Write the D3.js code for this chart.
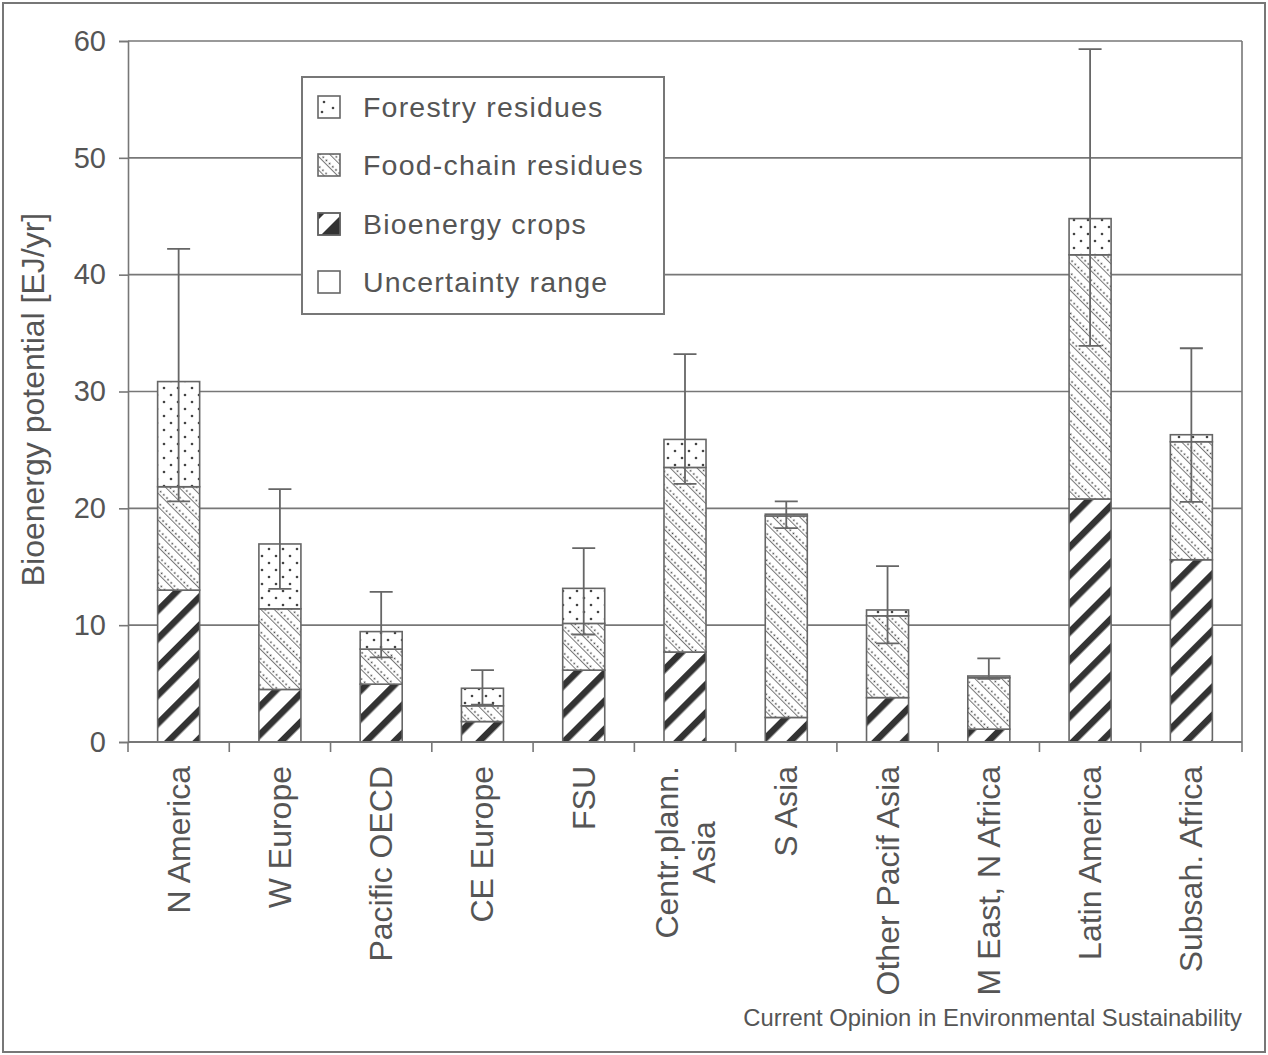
<!DOCTYPE html>
<html>
<head>
<meta charset="utf-8">
<script src="https://cdn.jsdelivr.net/npm/d3@7/dist/d3.min.js"></script>
<style>
  html, body { margin: 0; padding: 0; background: #fff; }
  svg { display: block; font-family: "Liberation Sans", Arial, Helvetica, sans-serif; }
</style>
</head>
<body>
<svg id="chart" width="1268" height="1055"></svg>
<script>
// ---- data (EJ/yr) ----
const categories = ["N America", "W Europe", "Pacific OECD", "CE Europe", "FSU", "Centr.plann.\nAsia",
  "S Asia", "Other Pacif Asia", "M East, N Africa", "Latin America", "Subsah. Africa"];
const bioenergyCrops = [13.0, 4.5, 4.95, 1.75, 6.15, 7.7, 2.1, 3.8, 1.1, 20.8, 15.6];
const foodChainResidues = [8.85, 6.9, 3.0, 1.35, 4.0, 15.8, 17.25, 7.0, 4.4, 20.9, 10.1];
const forestryResidues = [9.0, 5.55, 1.5, 1.5, 3.0, 2.4, 0.15, 0.5, 0.15, 3.1, 0.6];
const uncertaintyLow = [20.6, 13.1, 7.25, 3.2, 9.2, 22.1, 18.3, 8.45, 5.4, 33.9, 20.55];
const uncertaintyHigh = [42.2, 21.65, 12.85, 6.15, 16.6, 33.2, 20.6, 15.05, 7.15, 59.3, 33.7];
const yTicks = [0, 10, 20, 30, 40, 50, 60];
const legendLabels = ["Forestry residues", "Food-chain residues", "Bioenergy crops", "Uncertainty range"];
const yTitle = "Bioenergy potential [EJ/yr]";
const footer = "Current Opinion in Environmental Sustainability";

const rows = categories.map((c, i) => ({
  cat: c, crops: bioenergyCrops[i], food: foodChainResidues[i], forestry: forestryResidues[i],
  lo: uncertaintyLow[i], hi: uncertaintyHigh[i]
}));

const svg = d3.select("#chart");
const textColor = "#555";
const lineColor = "#777";

// ---- patterns ----
const defs = svg.append("defs");
const pCrops = defs.append("pattern").attr("id", "pCrops").attr("patternUnits", "userSpaceOnUse")
  .attr("width", 20).attr("height", 20).attr("patternTransform", "rotate(45)");
pCrops.append("rect").attr("width", 20).attr("height", 20).attr("fill", "#fff");
pCrops.append("rect").attr("x", 0).attr("y", 0).attr("width", 6.5).attr("height", 20).attr("fill", "#333");

const pFood = defs.append("pattern").attr("id", "pFood").attr("patternUnits", "userSpaceOnUse")
  .attr("width", 9.5).attr("height", 4.5).attr("patternTransform", "rotate(-45)");
pFood.append("rect").attr("width", 9.5).attr("height", 4.5).attr("fill", "#fff");
pFood.append("rect").attr("x", 0).attr("y", 0).attr("width", 1).attr("height", 4.5).attr("fill", "#777");
pFood.append("circle").attr("cx", 3.4).attr("cy", 2.2).attr("r", 0.9).attr("fill", "#444");

const pForest = defs.append("pattern").attr("id", "pForest").attr("patternUnits", "userSpaceOnUse")
  .attr("width", 14).attr("height", 14);
pForest.append("rect").attr("width", 14).attr("height", 14).attr("fill", "#fff");
pForest.append("circle").attr("cx", 3).attr("cy", 3).attr("r", 1.3).attr("fill", "#444");
pForest.append("circle").attr("cx", 10).attr("cy", 10).attr("r", 1.3).attr("fill", "#444");

// ---- outer frame ----
svg.append("rect").attr("x", 3).attr("y", 3).attr("width", 1262).attr("height", 1049)
  .attr("fill", "none").attr("stroke", "#777").attr("stroke-width", 2);

// ---- scales ----
const plotL = 128, plotR = 1242, plotT = 41, plotB = 742;
const x = d3.scaleBand().domain(categories).range([plotL, plotR]).paddingInner(0.585).paddingOuter(0.2925);
const xEdge = d3.scaleLinear().domain([0, categories.length]).range([plotL, plotR]);
const y = d3.scaleLinear().domain([0, 60]).range([plotB, plotT]);

// ---- grid ----
svg.append("g").selectAll("line").data(yTicks.filter(t => t > 0)).join("line")
  .attr("x1", plotL).attr("x2", plotR).attr("y1", d => y(d)).attr("y2", d => y(d))
  .attr("stroke", lineColor).attr("stroke-width", 1.6);
svg.append("line").attr("x1", plotR).attr("x2", plotR).attr("y1", plotT).attr("y2", plotB)
  .attr("stroke", lineColor).attr("stroke-width", 1.6);

// ---- y axis ----
const yAxis = svg.append("g").attr("transform", `translate(${plotL},0)`)
  .call(d3.axisLeft(y).tickValues(yTicks).tickSize(9).tickPadding(13));
yAxis.select(".domain").attr("stroke", lineColor).attr("stroke-width", 1.6);
yAxis.selectAll(".tick line").attr("stroke", lineColor).attr("stroke-width", 1.6);
yAxis.selectAll(".tick text").attr("fill", textColor).attr("font-size", 29)
  .attr("font-family", "Liberation Sans, Arial, sans-serif");

svg.append("text").attr("transform", `translate(44,${(plotT + plotB) / 2 + 8}) rotate(-90)`)
  .attr("text-anchor", "middle").attr("fill", textColor).attr("font-size", 32).text(yTitle);

// ---- bars ----
const stack = d3.stack().keys(["crops", "food", "forestry"]);
const series = stack(rows);
const fills = { crops: "url(#pCrops)", food: "url(#pFood)", forestry: "url(#pForest)" };
svg.append("g").selectAll("g").data(series).join("g")
  .attr("fill", d => fills[d.key])
  .selectAll("rect").data(d => d).join("rect")
  .attr("x", d => x(d.data.cat)).attr("width", x.bandwidth())
  .attr("y", d => y(d[1])).attr("height", d => y(d[0]) - y(d[1]))
  .attr("stroke", "#666").attr("stroke-width", 1.6);

// ---- bottom axis ----
svg.append("line").attr("x1", plotL).attr("x2", plotR).attr("y1", plotB).attr("y2", plotB)
  .attr("stroke", lineColor).attr("stroke-width", 1.8);
svg.append("g").selectAll("line").data(d3.range(categories.length + 1)).join("line")
  .attr("x1", d => xEdge(d)).attr("x2", d => xEdge(d)).attr("y1", plotB).attr("y2", plotB + 10)
  .attr("stroke", lineColor).attr("stroke-width", 1.6);

// ---- error bars ----
const capW = 23;
const eb = svg.append("g").attr("stroke", "#666").attr("stroke-width", 1.8).attr("fill", "none");
eb.selectAll("path").data(rows).join("path")
  .attr("d", d => {
    const cx = x(d.cat) + x.bandwidth() / 2;
    return `M${cx},${y(d.lo)}V${y(d.hi)}M${cx - capW / 2},${y(d.hi)}H${cx + capW / 2}` +
           `M${cx - capW / 2},${y(d.lo)}H${cx + capW / 2}`;
  });

// ---- category labels ----
const labTop = 766;
const labelG = svg.append("g").attr("fill", textColor).attr("font-size", 32);
rows.forEach(d => {
  const lines = d.cat.split("\n");
  const cx = x(d.cat) + x.bandwidth() / 2;
  const lineH = 37;
  const g = labelG.append("g");
  const texts = lines.map((ln, k) => g.append("text").text(ln));
  const maxLen = d3.max(texts, t => t.node().getComputedTextLength());
  texts.forEach((t, k) => {
    const off = (k - (lines.length - 1) / 2) * lineH;
    t.attr("text-anchor", "middle")
     .attr("transform", `translate(${cx + off + 11},${labTop + maxLen / 2}) rotate(-90)`);
  });
});

// ---- legend ----
const lg = svg.append("g");
lg.append("rect").attr("x", 302).attr("y", 77).attr("width", 362).attr("height", 237)
  .attr("fill", "#fff").attr("stroke", "#777").attr("stroke-width", 2);
const legY = [107, 165, 224, 282];
const sw = 22;
legendLabels.forEach((lab, i) => {
  const yy = legY[i];
  const r = lg.append("rect").attr("x", 318).attr("y", yy - sw / 2).attr("width", sw).attr("height", sw)
    .attr("fill", "#fff").attr("stroke", "#666").attr("stroke-width", 1.6);
  if (i === 0) {
    [[6, -5], [4, 5], [15, 1]].forEach(p => lg.append("circle").attr("cx", 318 + p[0]).attr("cy", yy + p[1])
      .attr("r", 1.3).attr("fill", "#444"));
  } else if (i === 1) {
    r.attr("fill", "url(#pFood)");
  } else if (i === 2) {
    const x0 = 318, y0 = yy - sw / 2;
    lg.append("path").attr("d", `M${x0},${y0}H${x0 + 7}L${x0},${y0 + 7}Z`).attr("fill", "#333");
    lg.append("path").attr("d", `M${x0 + sw},${y0 + 3}V${y0 + sw}H${x0 + 3}Z`).attr("fill", "#333");
    lg.append("rect").attr("x", x0).attr("y", y0).attr("width", sw).attr("height", sw)
      .attr("fill", "none").attr("stroke", "#666").attr("stroke-width", 1.6);
  }
  lg.append("text").attr("x", 363).attr("y", yy + 10).attr("fill", textColor)
    .attr("font-size", 28.5).attr("letter-spacing", 1.2).text(lab);
});

// ---- footer ----
svg.append("text").attr("x", 1242).attr("y", 1026).attr("text-anchor", "end")
  .attr("fill", textColor).attr("font-size", 23.8).text(footer);
</script>
</body>
</html>
